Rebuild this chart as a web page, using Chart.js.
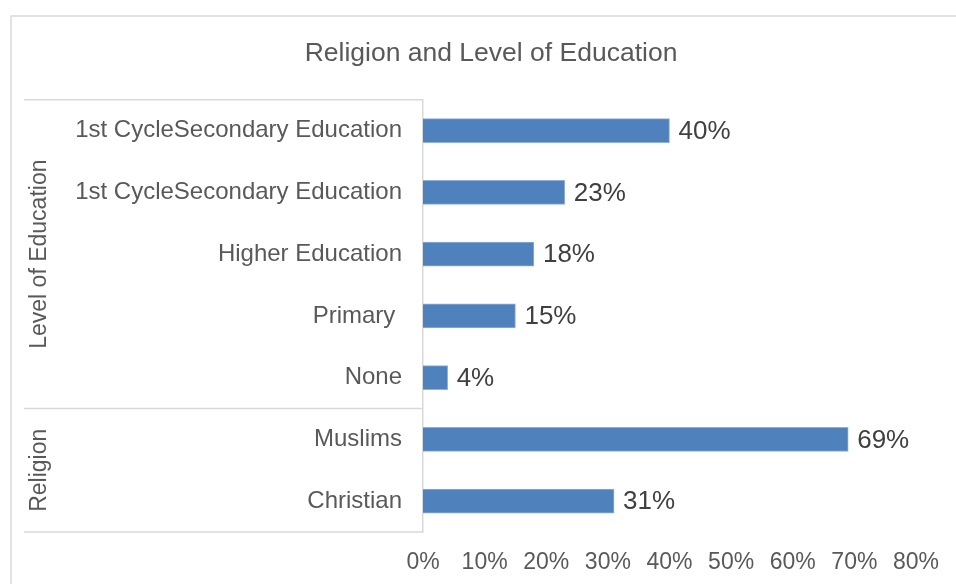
<!DOCTYPE html>
<html>
<head>
<meta charset="utf-8">
<title>Religion and Level of Education</title>
<script src="https://cdn.jsdelivr.net/npm/chart.js@4.4.1/dist/chart.umd.min.js"></script>
<style>
  html, body { margin: 0; padding: 0; background: #fff; }
  #wrap { position: relative; width: 956px; height: 584px; }
</style>
</head>
<body>
<div id="wrap"><canvas id="myChart" width="956" height="584"></canvas></div>
<script>
// --- data ---
var categories = [
  '1st CycleSecondary Education',
  '1st CycleSecondary Education',
  'Higher Education',
  'Primary ',
  'None',
  'Muslims',
  'Christian'
];
var shares = [40, 23, 18, 15, 4, 69, 31];   // percent
var groupNames = ['Level of Education', 'Religion'];
var groupSizes = [5, 2];                    // how many categories each group holds
var xTicks = [0, 10, 20, 30, 40, 50, 60, 70, 80];

var LINE_GREY = '#d9d9d9';
var TEXT_GREY = '#595959';
var FONT = '"Liberation Sans", Arial, sans-serif';

// frame around the whole chart (only top/left fall inside the canvas)
var chartFrame = {
  id: 'chartFrame',
  beforeDraw: function(chart) {
    var ctx = chart.ctx;
    ctx.save();
    ctx.strokeStyle = LINE_GREY;
    ctx.lineWidth = 1.5;
    ctx.beginPath();
    ctx.moveTo(11, chart.height + 2);
    ctx.lineTo(11, 16);
    ctx.lineTo(chart.width + 2, 16);
    ctx.stroke();
    ctx.restore();
  }
};

// two-level category axis: separators + rotated group names
var groupAxis = {
  id: 'groupAxis',
  afterDraw: function(chart) {
    var ctx = chart.ctx, area = chart.chartArea;
    var band = (area.bottom - area.top) / categories.length;
    var x0 = 24;
    ctx.save();
    ctx.strokeStyle = LINE_GREY;
    ctx.lineWidth = 1.5;
    var start = 0;
    var edges = [area.top];
    groupSizes.forEach(function(n) { start += n; edges.push(area.top + band * start); });
    edges.forEach(function(e) {
      ctx.beginPath();
      ctx.moveTo(x0, e);
      ctx.lineTo(area.left, e);
      ctx.stroke();
    });
    ctx.fillStyle = TEXT_GREY;
    ctx.font = '23px ' + FONT;
    ctx.textAlign = 'center';
    ctx.textBaseline = 'middle';
    groupNames.forEach(function(name, i) {
      var mid = (edges[i] + edges[i + 1]) / 2;
      ctx.save();
      ctx.translate(40, mid);
      ctx.rotate(-Math.PI / 2);
      ctx.fillText(name, 0, 0);
      ctx.restore();
    });
    ctx.restore();
  }
};

// value labels just past the end of each bar
var barLabels = {
  id: 'barLabels',
  afterDatasetsDraw: function(chart) {
    var ctx = chart.ctx;
    var meta = chart.getDatasetMeta(0);
    ctx.save();
    ctx.fillStyle = '#404040';
    ctx.font = '26px ' + FONT;
    ctx.textAlign = 'left';
    ctx.textBaseline = 'middle';
    meta.data.forEach(function(bar, i) {
      ctx.fillText(shares[i] + '%', bar.x + 9, bar.y + 1);
    });
    ctx.restore();
  }
};

var ctx = document.getElementById('myChart').getContext('2d');
new Chart(ctx, {
  type: 'bar',
  data: {
    labels: categories,
    datasets: [{
      data: shares,
      backgroundColor: 'rgb(79, 129, 189)',
      borderColor: 'rgb(142, 176, 219)',
      borderWidth: 1,
      barThickness: 24
    }]
  },
  options: {
    indexAxis: 'y',
    responsive: false,
    animation: false,
    layout: { padding: { top: 0, left: 65, right: 39, bottom: 0 } },
    plugins: {
      legend: { display: false },
      tooltip: { enabled: false },
      title: {
        display: true,
        text: 'Religion and Level of Education',
        color: TEXT_GREY,
        font: { family: FONT, size: 26.5, weight: 'normal', lineHeight: 1.2 },
        padding: { top: 38, bottom: 30 }
      }
    },
    scales: {
      x: {
        min: 0,
        max: 80,
        afterBuildTicks: function(scale) {
          scale.ticks = xTicks.map(function(v) { return { value: v }; });
        },
        afterFit: function(scale) { scale.height = 52; },
        grid: { display: false, drawTicks: false },
        border: { display: false },
        ticks: {
          padding: 17,
          color: TEXT_GREY,
          font: { family: FONT, size: 23 },
          callback: function(v) { return v + '%'; }
        }
      },
      y: {
        afterFit: function(scale) { scale.width = 358; },
        grid: { display: false, drawTicks: false },
        border: { display: true, color: LINE_GREY, width: 1.5 },
        ticks: {
          padding: 21,
          color: TEXT_GREY,
          font: { family: FONT, size: 24 }
        }
      }
    }
  },
  plugins: [chartFrame, groupAxis, barLabels]
});
</script>
</body>
</html>
